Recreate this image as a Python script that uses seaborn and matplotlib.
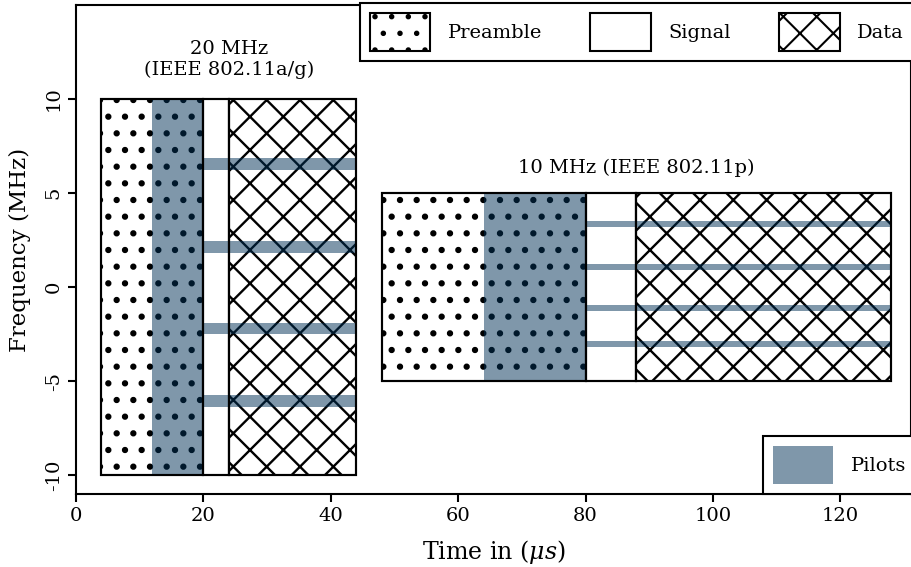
import matplotlib
matplotlib.use("Agg")
import matplotlib.pyplot as plt
import seaborn as sns
import numpy as np
import pandas as pd
from matplotlib.patches import Patch

sns.set_theme(style="ticks")
plt.rcParams["font.family"] = ["DejaVu Serif"]
plt.rcParams["mathtext.fontset"] = "dejavuserif"
plt.rcParams["axes.unicode_minus"] = False
plt.rcParams["hatch.linewidth"] = 1.5
for k in ["text.color", "axes.labelcolor", "xtick.color", "ytick.color", "axes.edgecolor"]:
    plt.rcParams[k] = "black"

# frame segments: name, start, end (us), low, high (MHz)
seg_names = ["Preamble", "Signal", "Data", "Preamble", "Signal", "Data"]
seg_start = [4, 20, 24, 48, 80, 88]
seg_end = [20, 24, 44, 80, 88, 128]
seg_low = [-10, -10, -10, -5, -5, -5]
seg_high = [10, 10, 10, 5, 5, 5]

# pilot part of the preamble
pre_pilot_start = [12, 64]
pre_pilot_end = [20, 80]
pre_pilot_low = [-10, -5]
pre_pilot_high = [10, 5]

# pilot subcarriers (MHz) during signal + data
pilots_20 = [6.55, 2.15, -2.2, -6.05]
pilots_10 = [3.33, 1.07, -1.12, -3.03]
pilot_span_20 = (20, 44)
pilot_span_10 = (80, 128)

labels_text = ["20 MHz\n(IEEE 802.11a/g)", "10 MHz (IEEE 802.11p)"]
labels_x = [24, 88]
labels_y = [12.1, 6.35]

hatches = {"Preamble": ".", "Signal": "", "Data": "x"}
pilot_color = "#003056"


def hatch_lw(name):
    return 2.1 if name == "Preamble" else 1.7


segs = pd.DataFrame({"name": seg_names, "start": seg_start, "end": seg_end,
                     "low": seg_low, "high": seg_high})

fig = plt.figure(figsize=(9.11, 5.67), dpi=100)
ax = fig.add_axes([76 / 911, 73 / 567, 835 / 911, 489 / 567])

for _, r in segs.iterrows():
    with plt.rc_context({"hatch.linewidth": hatch_lw(r["name"])}):
        bars = ax.bar(r["start"], r["high"] - r["low"], width=r["end"] - r["start"],
                      bottom=r["low"], align="edge", facecolor="white", edgecolor="black",
                      linewidth=1.5, hatch=hatches[r["name"]], zorder=1)
    for b in bars:
        if hasattr(b, "set_hatch_linewidth"):
            b.set_hatch_linewidth(hatch_lw(r["name"]))

ax.bar(pre_pilot_start, np.subtract(pre_pilot_high, pre_pilot_low),
       width=np.subtract(pre_pilot_end, pre_pilot_start), bottom=pre_pilot_low,
       align="edge", color=pilot_color, alpha=0.5, linewidth=0, zorder=2)

for pilots, span, h in [(pilots_20, pilot_span_20, 0.62), (pilots_10, pilot_span_10, 0.32)]:
    ax.barh(pilots, span[1] - span[0], left=span[0], height=h,
            color=pilot_color, alpha=0.5, linewidth=0, zorder=2)

for _, r in segs.iterrows():
    ax.bar(r["start"], r["high"] - r["low"], width=r["end"] - r["start"],
           bottom=r["low"], align="edge", fill=False, edgecolor="black",
           linewidth=1.5, zorder=3)

for t, x, y in zip(labels_text, labels_x, labels_y):
    ax.text(x, y, t, ha="center", va="center", multialignment="center", fontsize=14)

ax.set_xlim(0, 131.1)
ax.set_ylim(-11, 15)
ax.set_xticks([0, 20, 40, 60, 80, 100, 120])
ax.set_yticks([-10, -5, 0, 5, 10])
ax.tick_params(axis="both", labelsize=14, length=6, width=1.5, color="black",
               labelcolor="black", direction="out")
for lab in ax.get_yticklabels():
    lab.set_rotation(90)
    lab.set_va("center")
for s in ax.spines.values():
    s.set_linewidth(1.5)
    s.set_color("black")
ax.set_xlabel("Time in ($\\mu s$)", fontsize=17, labelpad=9)
ax.set_ylabel("Frequency (MHz)", fontsize=16.5, labelpad=10)

top_handles = []
for n in ["Preamble", "Signal", "Data"]:
    with plt.rc_context({"hatch.linewidth": hatch_lw(n)}):
        p = Patch(facecolor="white", edgecolor="black", linewidth=1.5, hatch=hatches[n])
    if hasattr(p, "set_hatch_linewidth"):
        p.set_hatch_linewidth(hatch_lw(n))
    top_handles.append(p)

leg1 = fig.legend(top_handles, ["Preamble", "Signal", "Data"], loc="upper left",
                  bbox_to_anchor=(360 / 911, 1 - 3 / 567), ncol=3, fontsize=14,
                  handlelength=3.1, handleheight=2.64, handletextpad=0.9,
                  columnspacing=2.5, borderpad=0.5, borderaxespad=0,
                  fancybox=False, framealpha=1, edgecolor="black")
leg1.get_frame().set_linewidth(1.5)

leg2 = fig.legend([Patch(facecolor=pilot_color, alpha=0.5, linewidth=0)], ["Pilots"],
                  loc="lower left", bbox_to_anchor=(763 / 911, 73 / 567), fontsize=14,
                  handlelength=3.1, handleheight=2.64, handletextpad=0.9,
                  borderpad=0.5, borderaxespad=0, fancybox=False, framealpha=1,
                  edgecolor="black")
leg2.get_frame().set_linewidth(1.5)

fig.savefig("out.png", dpi=100)
